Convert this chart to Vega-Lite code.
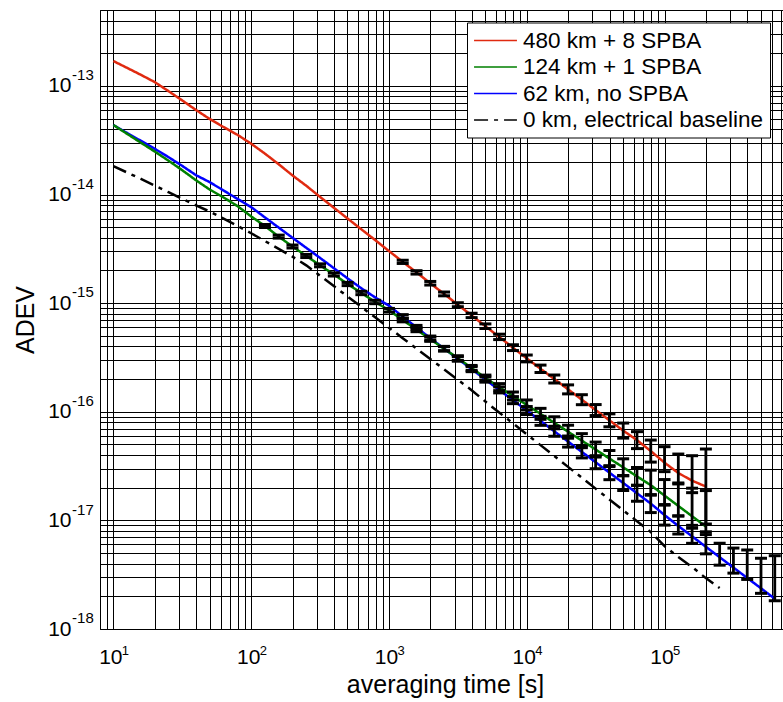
{
  "$schema": "https://vega.github.io/schema/vega-lite/v6.json",
  "width": 683,
  "height": 619,
  "autosize": {"type": "none"},
  "padding": {"left": 100, "top": 10, "right": 0, "bottom": 73},
  "background": "white",
  "config": {
    "view": {"stroke": "#000", "strokeWidth": 1},
    "font": "Liberation Sans",
    "axis": {"labelFont": "Liberation Sans", "titleFont": "Liberation Sans", "labelColor": "#000", "titleColor": "#000", "titleFontWeight": "normal"}
  },
  "datasets": {
    "lines": [
      {"t": 10, "v": 4.37e-14, "s": "62 km, no SPBA"},
      {"t": 12.589, "v": 3.69e-14, "s": "62 km, no SPBA"},
      {"t": 15.849, "v": 3.12e-14, "s": "62 km, no SPBA"},
      {"t": 19.953, "v": 2.64e-14, "s": "62 km, no SPBA"},
      {"t": 25.119, "v": 2.21e-14, "s": "62 km, no SPBA"},
      {"t": 31.623, "v": 1.835e-14, "s": "62 km, no SPBA"},
      {"t": 39.811, "v": 1.507e-14, "s": "62 km, no SPBA"},
      {"t": 50.119, "v": 1.298e-14, "s": "62 km, no SPBA"},
      {"t": 63.096, "v": 1.089e-14, "s": "62 km, no SPBA"},
      {"t": 79.433, "v": 9.13e-15, "s": "62 km, no SPBA"},
      {"t": 100, "v": 7.66e-15, "s": "62 km, no SPBA"},
      {"t": 125.89, "v": 6.16e-15, "s": "62 km, no SPBA"},
      {"t": 158.49, "v": 4.96e-15, "s": "62 km, no SPBA"},
      {"t": 199.53, "v": 4.00e-15, "s": "62 km, no SPBA"},
      {"t": 251.19, "v": 3.23e-15, "s": "62 km, no SPBA"},
      {"t": 316.23, "v": 2.61e-15, "s": "62 km, no SPBA"},
      {"t": 398.11, "v": 2.10e-15, "s": "62 km, no SPBA"},
      {"t": 501.19, "v": 1.69e-15, "s": "62 km, no SPBA"},
      {"t": 630.96, "v": 1.37e-15, "s": "62 km, no SPBA"},
      {"t": 794.33, "v": 1.13e-15, "s": "62 km, no SPBA"},
      {"t": 1000, "v": 9.48e-16, "s": "62 km, no SPBA"},
      {"t": 1258.9, "v": 7.53e-16, "s": "62 km, no SPBA"},
      {"t": 1584.9, "v": 5.98e-16, "s": "62 km, no SPBA"},
      {"t": 1995.3, "v": 4.76e-16, "s": "62 km, no SPBA"},
      {"t": 2511.9, "v": 3.82e-16, "s": "62 km, no SPBA"},
      {"t": 3162.3, "v": 3.07e-16, "s": "62 km, no SPBA"},
      {"t": 3981.1, "v": 2.47e-16, "s": "62 km, no SPBA"},
      {"t": 5011.9, "v": 1.98e-16, "s": "62 km, no SPBA"},
      {"t": 6309.6, "v": 1.59e-16, "s": "62 km, no SPBA"},
      {"t": 7943.3, "v": 1.28e-16, "s": "62 km, no SPBA"},
      {"t": 10000, "v": 1.026e-16, "s": "62 km, no SPBA"},
      {"t": 12589, "v": 8.25e-17, "s": "62 km, no SPBA"},
      {"t": 15849, "v": 6.61e-17, "s": "62 km, no SPBA"},
      {"t": 19953, "v": 5.32e-17, "s": "62 km, no SPBA"},
      {"t": 25119, "v": 4.27e-17, "s": "62 km, no SPBA"},
      {"t": 31623, "v": 3.43e-17, "s": "62 km, no SPBA"},
      {"t": 39811, "v": 2.75e-17, "s": "62 km, no SPBA"},
      {"t": 50119, "v": 2.21e-17, "s": "62 km, no SPBA"},
      {"t": 63096, "v": 1.777e-17, "s": "62 km, no SPBA"},
      {"t": 79433, "v": 1.428e-17, "s": "62 km, no SPBA"},
      {"t": 100000, "v": 1.119e-17, "s": "62 km, no SPBA"},
      {"t": 125893, "v": 8.88e-18, "s": "62 km, no SPBA"},
      {"t": 158489, "v": 7.13e-18, "s": "62 km, no SPBA"},
      {"t": 199526, "v": 5.71e-18, "s": "62 km, no SPBA"},
      {"t": 251189, "v": 4.58e-18, "s": "62 km, no SPBA"},
      {"t": 316228, "v": 3.68e-18, "s": "62 km, no SPBA"},
      {"t": 398107, "v": 2.95e-18, "s": "62 km, no SPBA"},
      {"t": 501187, "v": 2.37e-18, "s": "62 km, no SPBA"},
      {"t": 630957, "v": 1.90e-18, "s": "62 km, no SPBA"},

      {"t": 10, "v": 4.37e-14, "s": "124 km + 1 SPBA"},
      {"t": 12.589, "v": 3.62e-14, "s": "124 km + 1 SPBA"},
      {"t": 15.849, "v": 3.00e-14, "s": "124 km + 1 SPBA"},
      {"t": 19.953, "v": 2.49e-14, "s": "124 km + 1 SPBA"},
      {"t": 25.119, "v": 2.05e-14, "s": "124 km + 1 SPBA"},
      {"t": 31.623, "v": 1.675e-14, "s": "124 km + 1 SPBA"},
      {"t": 39.811, "v": 1.352e-14, "s": "124 km + 1 SPBA"},
      {"t": 50.119, "v": 1.110e-14, "s": "124 km + 1 SPBA"},
      {"t": 63.096, "v": 9.40e-15, "s": "124 km + 1 SPBA"},
      {"t": 79.433, "v": 7.84e-15, "s": "124 km + 1 SPBA"},
      {"t": 100, "v": 6.29e-15, "s": "124 km + 1 SPBA"},
      {"t": 125.89, "v": 5.13e-15, "s": "124 km + 1 SPBA"},
      {"t": 158.49, "v": 4.10e-15, "s": "124 km + 1 SPBA"},
      {"t": 199.53, "v": 3.32e-15, "s": "124 km + 1 SPBA"},
      {"t": 251.19, "v": 2.72e-15, "s": "124 km + 1 SPBA"},
      {"t": 316.23, "v": 2.23e-15, "s": "124 km + 1 SPBA"},
      {"t": 398.11, "v": 1.838e-15, "s": "124 km + 1 SPBA"},
      {"t": 501.19, "v": 1.50e-15, "s": "124 km + 1 SPBA"},
      {"t": 630.96, "v": 1.240e-15, "s": "124 km + 1 SPBA"},
      {"t": 794.33, "v": 1.025e-15, "s": "124 km + 1 SPBA"},
      {"t": 1000, "v": 8.60e-16, "s": "124 km + 1 SPBA"},
      {"t": 1258.9, "v": 7.00e-16, "s": "124 km + 1 SPBA"},
      {"t": 1584.9, "v": 5.70e-16, "s": "124 km + 1 SPBA"},
      {"t": 1995.3, "v": 4.66e-16, "s": "124 km + 1 SPBA"},
      {"t": 2511.9, "v": 3.80e-16, "s": "124 km + 1 SPBA"},
      {"t": 3162.3, "v": 3.12e-16, "s": "124 km + 1 SPBA"},
      {"t": 3981.1, "v": 2.53e-16, "s": "124 km + 1 SPBA"},
      {"t": 5011.9, "v": 2.05e-16, "s": "124 km + 1 SPBA"},
      {"t": 6309.6, "v": 1.686e-16, "s": "124 km + 1 SPBA"},
      {"t": 7943.3, "v": 1.396e-16, "s": "124 km + 1 SPBA"},
      {"t": 10000, "v": 1.155e-16, "s": "124 km + 1 SPBA"},
      {"t": 12589, "v": 9.57e-17, "s": "124 km + 1 SPBA"},
      {"t": 15849, "v": 7.92e-17, "s": "124 km + 1 SPBA"},
      {"t": 19953, "v": 6.55e-17, "s": "124 km + 1 SPBA"},
      {"t": 25119, "v": 5.42e-17, "s": "124 km + 1 SPBA"},
      {"t": 31623, "v": 4.49e-17, "s": "124 km + 1 SPBA"},
      {"t": 39811, "v": 3.71e-17, "s": "124 km + 1 SPBA"},
      {"t": 50119, "v": 3.08e-17, "s": "124 km + 1 SPBA"},
      {"t": 63096, "v": 2.54e-17, "s": "124 km + 1 SPBA"},
      {"t": 79433, "v": 2.11e-17, "s": "124 km + 1 SPBA"},
      {"t": 100000, "v": 1.692e-17, "s": "124 km + 1 SPBA"},
      {"t": 125893, "v": 1.358e-17, "s": "124 km + 1 SPBA"},
      {"t": 158489, "v": 1.092e-17, "s": "124 km + 1 SPBA"},
      {"t": 199526, "v": 8.77e-18, "s": "124 km + 1 SPBA"},

      {"t": 10, "v": 1.695e-13, "s": "480 km + 8 SPBA"},
      {"t": 12.589, "v": 1.465e-13, "s": "480 km + 8 SPBA"},
      {"t": 15.849, "v": 1.265e-13, "s": "480 km + 8 SPBA"},
      {"t": 19.953, "v": 1.085e-13, "s": "480 km + 8 SPBA"},
      {"t": 25.119, "v": 8.95e-14, "s": "480 km + 8 SPBA"},
      {"t": 31.623, "v": 7.35e-14, "s": "480 km + 8 SPBA"},
      {"t": 39.811, "v": 6.00e-14, "s": "480 km + 8 SPBA"},
      {"t": 50.119, "v": 4.95e-14, "s": "480 km + 8 SPBA"},
      {"t": 63.096, "v": 4.18e-14, "s": "480 km + 8 SPBA"},
      {"t": 79.433, "v": 3.55e-14, "s": "480 km + 8 SPBA"},
      {"t": 100, "v": 2.94e-14, "s": "480 km + 8 SPBA"},
      {"t": 125.89, "v": 2.38e-14, "s": "480 km + 8 SPBA"},
      {"t": 158.49, "v": 1.90e-14, "s": "480 km + 8 SPBA"},
      {"t": 199.53, "v": 1.50e-14, "s": "480 km + 8 SPBA"},
      {"t": 251.19, "v": 1.205e-14, "s": "480 km + 8 SPBA"},
      {"t": 316.23, "v": 9.51e-15, "s": "480 km + 8 SPBA"},
      {"t": 398.11, "v": 7.56e-15, "s": "480 km + 8 SPBA"},
      {"t": 501.19, "v": 6.01e-15, "s": "480 km + 8 SPBA"},
      {"t": 630.96, "v": 4.78e-15, "s": "480 km + 8 SPBA"},
      {"t": 794.33, "v": 3.81e-15, "s": "480 km + 8 SPBA"},
      {"t": 1000, "v": 3.02e-15, "s": "480 km + 8 SPBA"},
      {"t": 1258.9, "v": 2.40e-15, "s": "480 km + 8 SPBA"},
      {"t": 1584.9, "v": 1.92e-15, "s": "480 km + 8 SPBA"},
      {"t": 1995.3, "v": 1.525e-15, "s": "480 km + 8 SPBA"},
      {"t": 2511.9, "v": 1.216e-15, "s": "480 km + 8 SPBA"},
      {"t": 3162.3, "v": 9.67e-16, "s": "480 km + 8 SPBA"},
      {"t": 3981.1, "v": 7.71e-16, "s": "480 km + 8 SPBA"},
      {"t": 5011.9, "v": 6.13e-16, "s": "480 km + 8 SPBA"},
      {"t": 6309.6, "v": 4.89e-16, "s": "480 km + 8 SPBA"},
      {"t": 7943.3, "v": 3.89e-16, "s": "480 km + 8 SPBA"},
      {"t": 10000, "v": 3.10e-16, "s": "480 km + 8 SPBA"},
      {"t": 12589, "v": 2.49e-16, "s": "480 km + 8 SPBA"},
      {"t": 15849, "v": 2.00e-16, "s": "480 km + 8 SPBA"},
      {"t": 19953, "v": 1.607e-16, "s": "480 km + 8 SPBA"},
      {"t": 25119, "v": 1.292e-16, "s": "480 km + 8 SPBA"},
      {"t": 31623, "v": 1.037e-16, "s": "480 km + 8 SPBA"},
      {"t": 39811, "v": 8.34e-17, "s": "480 km + 8 SPBA"},
      {"t": 50119, "v": 6.71e-17, "s": "480 km + 8 SPBA"},
      {"t": 63096, "v": 5.48e-17, "s": "480 km + 8 SPBA"},
      {"t": 79433, "v": 4.35e-17, "s": "480 km + 8 SPBA"},
      {"t": 100000, "v": 3.40e-17, "s": "480 km + 8 SPBA"},
      {"t": 125893, "v": 2.73e-17, "s": "480 km + 8 SPBA"},
      {"t": 158489, "v": 2.32e-17, "s": "480 km + 8 SPBA"},
      {"t": 199526, "v": 2.05e-17, "s": "480 km + 8 SPBA"},

      {"t": 10, "v": 1.829e-14, "s": "0 km, electrical baseline"},
      {"t": 12.589, "v": 1.595e-14, "s": "0 km, electrical baseline"},
      {"t": 15.849, "v": 1.393e-14, "s": "0 km, electrical baseline"},
      {"t": 19.953, "v": 1.210e-14, "s": "0 km, electrical baseline"},
      {"t": 25.119, "v": 1.050e-14, "s": "0 km, electrical baseline"},
      {"t": 31.623, "v": 9.12e-15, "s": "0 km, electrical baseline"},
      {"t": 39.811, "v": 7.96e-15, "s": "0 km, electrical baseline"},
      {"t": 50.119, "v": 6.96e-15, "s": "0 km, electrical baseline"},
      {"t": 63.096, "v": 6.01e-15, "s": "0 km, electrical baseline"},
      {"t": 79.433, "v": 5.16e-15, "s": "0 km, electrical baseline"},
      {"t": 100, "v": 4.40e-15, "s": "0 km, electrical baseline"},
      {"t": 125.89, "v": 3.73e-15, "s": "0 km, electrical baseline"},
      {"t": 158.49, "v": 3.16e-15, "s": "0 km, electrical baseline"},
      {"t": 199.53, "v": 2.68e-15, "s": "0 km, electrical baseline"},
      {"t": 251.19, "v": 2.23e-15, "s": "0 km, electrical baseline"},
      {"t": 316.23, "v": 1.788e-15, "s": "0 km, electrical baseline"},
      {"t": 398.11, "v": 1.435e-15, "s": "0 km, electrical baseline"},
      {"t": 501.19, "v": 1.151e-15, "s": "0 km, electrical baseline"},
      {"t": 630.96, "v": 9.23e-16, "s": "0 km, electrical baseline"},
      {"t": 794.33, "v": 7.40e-16, "s": "0 km, electrical baseline"},
      {"t": 1000, "v": 5.94e-16, "s": "0 km, electrical baseline"},
      {"t": 1258.9, "v": 4.76e-16, "s": "0 km, electrical baseline"},
      {"t": 1584.9, "v": 3.82e-16, "s": "0 km, electrical baseline"},
      {"t": 1995.3, "v": 3.06e-16, "s": "0 km, electrical baseline"},
      {"t": 2511.9, "v": 2.46e-16, "s": "0 km, electrical baseline"},
      {"t": 3162.3, "v": 1.972e-16, "s": "0 km, electrical baseline"},
      {"t": 3981.1, "v": 1.58e-16, "s": "0 km, electrical baseline"},
      {"t": 5011.9, "v": 1.242e-16, "s": "0 km, electrical baseline"},
      {"t": 6309.6, "v": 9.84e-17, "s": "0 km, electrical baseline"},
      {"t": 7943.3, "v": 7.82e-17, "s": "0 km, electrical baseline"},
      {"t": 10000, "v": 6.21e-17, "s": "0 km, electrical baseline"},
      {"t": 12589, "v": 4.93e-17, "s": "0 km, electrical baseline"},
      {"t": 15849, "v": 3.92e-17, "s": "0 km, electrical baseline"},
      {"t": 19953, "v": 3.11e-17, "s": "0 km, electrical baseline"},
      {"t": 25119, "v": 2.47e-17, "s": "0 km, electrical baseline"},
      {"t": 31623, "v": 1.96e-17, "s": "0 km, electrical baseline"},
      {"t": 39811, "v": 1.56e-17, "s": "0 km, electrical baseline"},
      {"t": 50119, "v": 1.239e-17, "s": "0 km, electrical baseline"},
      {"t": 63096, "v": 9.84e-18, "s": "0 km, electrical baseline"},
      {"t": 79433, "v": 7.80e-18, "s": "0 km, electrical baseline"},
      {"t": 100000, "v": 5.80e-18, "s": "0 km, electrical baseline"},
      {"t": 125893, "v": 4.59e-18, "s": "0 km, electrical baseline"},
      {"t": 158489, "v": 3.72e-18, "s": "0 km, electrical baseline"},
      {"t": 199526, "v": 2.94e-18, "s": "0 km, electrical baseline"},
      {"t": 251189, "v": 2.38e-18, "s": "0 km, electrical baseline"}
    ],
    "eb": [
      {"t": 1258.9, "lo": 2.320e-15, "hi": 2.483e-15},
      {"t": 1584.9, "lo": 1.852e-15, "hi": 1.990e-15},
      {"t": 1995.3, "lo": 1.468e-15, "hi": 1.584e-15},
      {"t": 2511.9, "lo": 1.168e-15, "hi": 1.266e-15},
      {"t": 3162.3, "lo": 9.27e-16, "hi": 1.009e-15},
      {"t": 3981.1, "lo": 7.36e-16, "hi": 8.08e-16},
      {"t": 5011.9, "lo": 5.84e-16, "hi": 6.44e-16},
      {"t": 6309.6, "lo": 4.62e-16, "hi": 5.18e-16},
      {"t": 7943.3, "lo": 3.66e-16, "hi": 4.14e-16},
      {"t": 10000, "lo": 2.88e-16, "hi": 3.33e-16},
      {"t": 12589, "lo": 2.30e-16, "hi": 2.69e-16},
      {"t": 15849, "lo": 1.84e-16, "hi": 2.18e-16},
      {"t": 19953, "lo": 1.461e-16, "hi": 1.768e-16},
      {"t": 25119, "lo": 1.162e-16, "hi": 1.436e-16},
      {"t": 31623, "lo": 9.23e-17, "hi": 1.165e-16},
      {"t": 39811, "lo": 7.27e-17, "hi": 9.57e-17},
      {"t": 50119, "lo": 5.72e-17, "hi": 7.87e-17},
      {"t": 63096, "lo": 4.58e-17, "hi": 6.56e-17},
      {"t": 79433, "lo": 3.44e-17, "hi": 5.49e-17},
      {"t": 100000, "lo": 2.81e-17, "hi": 4.77e-17},
      {"t": 125893, "lo": 2.21e-17, "hi": 4.08e-17},
      {"t": 158489, "lo": 1.80e-17, "hi": 3.94e-17},
      {"t": 199526, "lo": 9.26e-18, "hi": 4.54e-17},

      {"t": 125.89, "lo": 4.97e-15, "hi": 5.30e-15},
      {"t": 158.49, "lo": 3.97e-15, "hi": 4.23e-15},
      {"t": 199.53, "lo": 3.22e-15, "hi": 3.43e-15},
      {"t": 251.19, "lo": 2.63e-15, "hi": 2.81e-15},
      {"t": 316.23, "lo": 2.16e-15, "hi": 2.30e-15},
      {"t": 398.11, "lo": 1.777e-15, "hi": 1.901e-15},
      {"t": 501.19, "lo": 1.450e-15, "hi": 1.552e-15},
      {"t": 630.96, "lo": 1.197e-15, "hi": 1.286e-15},
      {"t": 794.33, "lo": 9.89e-16, "hi": 1.063e-15},
      {"t": 1000, "lo": 8.28e-16, "hi": 8.94e-16},
      {"t": 1258.9, "lo": 6.73e-16, "hi": 7.29e-16},
      {"t": 1584.9, "lo": 5.46e-16, "hi": 5.94e-16},
      {"t": 1995.3, "lo": 4.45e-16, "hi": 4.87e-16},
      {"t": 2511.9, "lo": 3.62e-16, "hi": 3.98e-16},
      {"t": 3162.3, "lo": 2.97e-16, "hi": 3.28e-16},
      {"t": 3981.1, "lo": 2.40e-16, "hi": 2.67e-16},
      {"t": 5011.9, "lo": 1.932e-16, "hi": 2.176e-16},
      {"t": 6309.6, "lo": 1.565e-16, "hi": 1.816e-16},
      {"t": 7943.3, "lo": 1.282e-16, "hi": 1.520e-16},
      {"t": 10000, "lo": 1.039e-16, "hi": 1.284e-16},
      {"t": 12589, "lo": 8.52e-17, "hi": 1.075e-16},
      {"t": 15849, "lo": 6.97e-17, "hi": 8.99e-17},
      {"t": 19953, "lo": 5.71e-17, "hi": 7.52e-17},
      {"t": 25119, "lo": 4.67e-17, "hi": 6.29e-17},
      {"t": 31623, "lo": 3.83e-17, "hi": 5.26e-17},
      {"t": 39811, "lo": 3.13e-17, "hi": 4.40e-17},
      {"t": 50119, "lo": 2.57e-17, "hi": 3.69e-17},
      {"t": 63096, "lo": 2.10e-17, "hi": 3.07e-17},
      {"t": 79433, "lo": 1.707e-17, "hi": 2.90e-17},
      {"t": 100000, "lo": 1.398e-17, "hi": 2.376e-17},
      {"t": 125893, "lo": 1.099e-17, "hi": 2.165e-17},
      {"t": 158489, "lo": 8.47e-18, "hi": 1.978e-17},
      {"t": 199526, "lo": 7.40e-18, "hi": 1.881e-17},

      {"t": 1258.9, "lo": 7.23e-16, "hi": 7.84e-16},
      {"t": 1584.9, "lo": 5.73e-16, "hi": 6.24e-16},
      {"t": 1995.3, "lo": 4.55e-16, "hi": 4.98e-16},
      {"t": 2511.9, "lo": 3.65e-16, "hi": 4.00e-16},
      {"t": 3162.3, "lo": 2.92e-16, "hi": 3.22e-16},
      {"t": 3981.1, "lo": 2.34e-16, "hi": 2.60e-16},
      {"t": 5011.9, "lo": 1.874e-16, "hi": 2.09e-16},
      {"t": 6309.6, "lo": 1.492e-16, "hi": 1.694e-16},
      {"t": 7943.3, "lo": 1.188e-16, "hi": 1.379e-16},
      {"t": 10000, "lo": 9.43e-17, "hi": 1.117e-16},
      {"t": 12589, "lo": 7.50e-17, "hi": 9.08e-17},
      {"t": 15849, "lo": 5.95e-17, "hi": 7.35e-17},
      {"t": 19953, "lo": 4.73e-17, "hi": 5.98e-17},
      {"t": 25119, "lo": 3.76e-17, "hi": 4.85e-17},
      {"t": 31623, "lo": 2.99e-17, "hi": 3.94e-17},
      {"t": 39811, "lo": 2.37e-17, "hi": 3.19e-17},
      {"t": 50119, "lo": 1.885e-17, "hi": 2.59e-17},
      {"t": 63096, "lo": 1.500e-17, "hi": 2.106e-17},
      {"t": 79433, "lo": 1.180e-17, "hi": 1.728e-17},
      {"t": 100000, "lo": 9.05e-18, "hi": 1.383e-17},
      {"t": 125893, "lo": 7.49e-18, "hi": 1.098e-17},
      {"t": 158489, "lo": 6.15e-18, "hi": 9.00e-18},
      {"t": 199526, "lo": 4.92e-18, "hi": 7.85e-18},
      {"t": 251189, "lo": 3.87e-18, "hi": 6.16e-18},
      {"t": 316228, "lo": 3.27e-18, "hi": 5.56e-18},
      {"t": 398107, "lo": 2.86e-18, "hi": 5.34e-18},
      {"t": 501187, "lo": 2.13e-18, "hi": 4.48e-18},
      {"t": 630957, "lo": 1.82e-18, "hi": 4.73e-18}
    ]
  },
  "layer": [
    {
      "data": {"name": "lines"},
      "mark": {"type": "line", "strokeWidth": 2.5, "clip": true},
      "encoding": {
        "x": {
          "field": "t", "type": "quantitative",
          "scale": {"type": "log", "domain": [8, 724000], "nice": false},
          "axis": {
            "orient": "bottom",
            "values": [8, 9, 10, 20, 30, 40, 50, 60, 70, 80, 90, 100, 200, 300, 400, 500, 600, 700, 800, 900, 1000, 2000, 3000, 4000, 5000, 6000, 7000, 8000, 9000, 10000, 20000, 30000, 40000, 50000, 60000, 70000, 80000, 90000, 100000, 200000, 300000, 400000, 500000, 600000, 700000],
            "grid": true, "gridColor": "#000", "gridOpacity": 1, "gridWidth": 1,
            "ticks": false, "tickSize": 0, "domain": false,
            "labelExpr": "abs(log(datum.value)/LN10 - round(log(datum.value)/LN10)) < 0.001 ? '10' : ''",
            "labelFontSize": 21, "labelPadding": 17.5, "labelOffset": -3, "labelOverlap": false, "labelFlush": false,
            "title": "averaging time [s]", "titleFontSize": 25, "titleX": 345, "titleY": 63.5, "titleBaseline": "alphabetic", "titleAlign": "center"
          }
        },
        "y": {
          "field": "v", "type": "quantitative",
          "scale": {"type": "log", "domain": [1e-18, 5e-13], "nice": false},
          "axis": {
            "orient": "left",
            "values": [1e-18, 2e-18, 3e-18, 4e-18, 5e-18, 6e-18, 7e-18, 8e-18, 9e-18, 1e-17, 2e-17, 3e-17, 4e-17, 5e-17, 6e-17, 7e-17, 8e-17, 9e-17, 1e-16, 2e-16, 3e-16, 4e-16, 5e-16, 6e-16, 7e-16, 8e-16, 9e-16, 1e-15, 2e-15, 3e-15, 4e-15, 5e-15, 6e-15, 7e-15, 8e-15, 9e-15, 1e-14, 2e-14, 3e-14, 4e-14, 5e-14, 6e-14, 7e-14, 8e-14, 9e-14, 1e-13, 2e-13, 3e-13, 4e-13, 5e-13],
            "grid": true, "gridColor": "#000", "gridOpacity": 1, "gridWidth": 1,
            "ticks": false, "tickSize": 0, "domain": false,
            "labelExpr": "abs(log(datum.value)/LN10 - round(log(datum.value)/LN10)) < 0.001 ? '10' : ''",
            "labelFontSize": 21, "labelPadding": 29, "labelAlign": "right", "labelBaseline": "middle", "labelOverlap": false, "labelFlush": false,
            "title": "ADEV", "titleFontSize": 25, "titleX": -67, "titleY": 309.5, "titleAngle": -90, "titleBaseline": "alphabetic", "titleAlign": "center"
          }
        },
        "color": {
          "field": "s", "type": "nominal",
          "scale": {"domain": ["480 km + 8 SPBA", "124 km + 1 SPBA", "62 km, no SPBA", "0 km, electrical baseline"], "range": ["#e02a10", "#008000", "#0000ff", "#000000"]},
          "legend": {"title": null, "orient": "none", "legendX": 367, "legendY": 12.5, "strokeColor": "#000", "fillColor": "#fff", "padding": 6, "symbolType": "M-1.95,0H1.95", "symbolSize": 484, "symbolOffset": 10.5, "symbolStrokeWidth": 1.5, "labelFontSize": 22.5, "labelColor": "#000", "labelOffset": 15.5, "labelLimit": 400, "rowPadding": 2.5}
        },
        "strokeDash": {
          "field": "s", "type": "nominal",
          "scale": {"domain": ["480 km + 8 SPBA", "124 km + 1 SPBA", "62 km, no SPBA", "0 km, electrical baseline"], "range": [[1, 0], [1, 0], [1, 0], [14, 6, 4, 6]]},
          "legend": {"title": null, "orient": "none", "legendX": 367, "legendY": 12.5, "strokeColor": "#000", "fillColor": "#fff", "padding": 6, "symbolType": "M-1.95,0H1.95", "symbolSize": 484, "symbolOffset": 10.5, "symbolStrokeWidth": 1.5, "labelFontSize": 22.5, "labelColor": "#000", "labelOffset": 15.5, "labelLimit": 400, "rowPadding": 2.5}
        }
      }
    },
    {
      "data": {"name": "eb"},
      "mark": {"type": "rule", "color": "#000", "strokeWidth": 2.8},
      "encoding": {
        "x": {
          "field": "t", "type": "quantitative",
          "scale": {"type": "log", "domain": [8, 724000], "nice": false},
          "axis": {
            "orient": "bottom", "values": [10, 100, 1000, 10000, 100000],
            "grid": false, "ticks": false, "tickSize": 0, "domain": false,
            "labelExpr": "'' + round(log(datum.value)/LN10)",
            "labelFontSize": 13, "labelPadding": 15, "labelOffset": 11.6, "labelOverlap": false, "labelFlush": false,
            "title": null
          }
        },
        "y": {
          "field": "lo", "type": "quantitative",
          "scale": {"type": "log", "domain": [1e-18, 5e-13], "nice": false},
          "axis": {
            "orient": "left", "values": [1e-18, 1e-17, 1e-16, 1e-15, 1e-14, 1e-13],
            "grid": false, "ticks": false, "tickSize": 0, "domain": false,
            "labelExpr": "'-' + (-round(log(datum.value)/LN10))",
            "labelFontSize": 15, "labelPadding": 6.7, "labelOffset": -11.3, "labelAlign": "right", "labelBaseline": "middle", "labelOverlap": false, "labelFlush": false,
            "title": null
          }
        },
        "y2": {"field": "hi"}
      }
    },
    {
      "data": {"name": "eb"},
      "transform": [{"fold": ["lo", "hi"], "as": ["k", "yv"]}],
      "mark": {"type": "tick", "orient": "horizontal", "color": "#000", "size": 12, "thickness": 3, "opacity": 1},
      "encoding": {
        "x": {"field": "t", "type": "quantitative", "scale": {"type": "log", "domain": [8, 724000], "nice": false}, "axis": null},
        "y": {"field": "yv", "type": "quantitative", "scale": {"type": "log", "domain": [1e-18, 5e-13], "nice": false}, "axis": null}
      }
    }
  ],
  "resolve": {"axis": {"x": "independent", "y": "independent"}}
}
